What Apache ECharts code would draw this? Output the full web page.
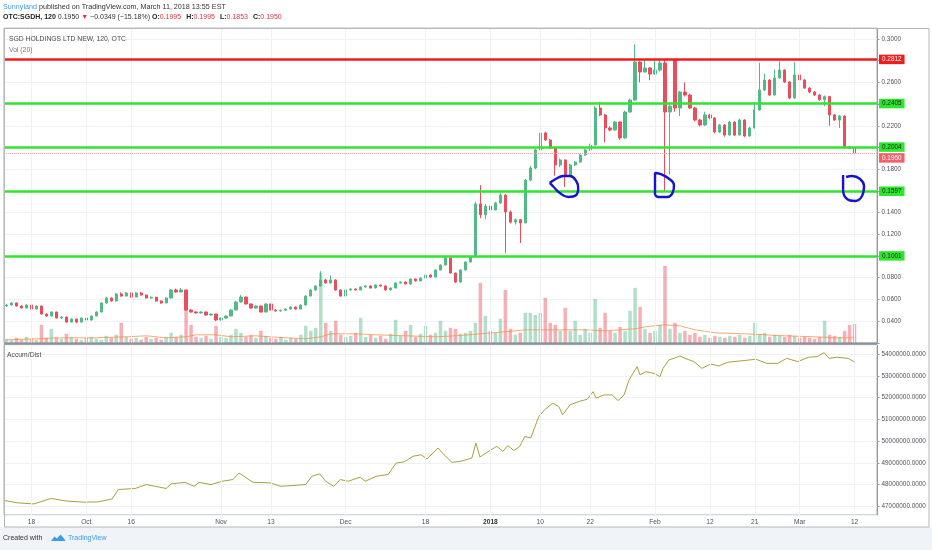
<!DOCTYPE html>
<html><head><meta charset="utf-8">
<script src="https://cdn.jsdelivr.net/npm/echarts@6/dist/echarts.min.js"></script>
<style>html,body{margin:0;padding:0;background:#fff}#c{width:932px;height:550px}</style>
</head><body><div id="c"></div>
<script>
// ---------- data ----------
const slotCount = 175; // bar slots on the time axis (last few empty)
const tickIndex = [5,16,25,43,53,68,84,97,107,117,130,141,150,159,170];
const tickText  = ['18','Oct','16','Nov','13','Dec','18','2018','10','22','Feb','12','21','Mar','12'];
const priceTicks = ['0.3000','0.2600','0.2200','0.1800','0.1400','0.1200','0.0800','0.0600','0.0400'];
// [open, close, low, high]
const candles = [
[.0540,.0548,.0530,.0560],[.0548,.0567,.0545,.0575],[.0567,.0539,.0535,.0570],[.0539,.0520,.0515,.0545],
[.0520,.0548,.0518,.0555],[.0548,.0511,.0505,.0552],[.0511,.0539,.0508,.0545],[.0539,.0465,.0460,.0542],
[.0465,.0447,.0440,.0470],[.0447,.0484,.0443,.0490],[.0484,.0428,.0425,.0486],[.0428,.0437,.0420,.0445],
[.0437,.0391,.0385,.0440],[.0391,.0419,.0388,.0425],[.0419,.0391,.0380,.0422],[.0391,.0428,.0386,.0432],
[.0428,.0410,.0400,.0430],[.0410,.0447,.0405,.0450],[.0447,.0484,.0445,.0490],[.0484,.0567,.0480,.0575],
[.0567,.0613,.0560,.0625],[.0613,.0585,.0580,.0618],[.0585,.0650,.0582,.0660],[.0650,.0631,.0625,.0665],
[.0631,.0659,.0628,.0668],[.0659,.0622,.0615,.0662],[.0622,.0659,.0620,.0665],[.0659,.0640,.0635,.0668],
[.0640,.0613,.0608,.0645],[.0613,.0620,.0605,.0628],[.0620,.0585,.0580,.0625],[.0585,.0567,.0560,.0590],
[.0567,.0613,.0565,.0618],[.0613,.0687,.0610,.0695],[.0687,.0668,.0660,.0700],[.0668,.0687,.0665,.0705],
[.0687,.0502,.0495,.0690],[.0502,.0484,.0478,.0508],[.0484,.0475,.0470,.0490],[.0475,.0484,.0470,.0490],
[.0484,.0456,.0450,.0488],[.0456,.0465,.0450,.0470],[.0465,.0410,.0400,.0468],[.0410,.0428,.0405,.0432],
[.0428,.0447,.0420,.0450],[.0447,.0502,.0445,.0508],[.0502,.0576,.0500,.0585],[.0576,.0622,.0570,.0640],
[.0622,.0558,.0552,.0625],[.0558,.0520,.0515,.0562],[.0520,.0539,.0515,.0545],[.0539,.0484,.0478,.0542],
[.0484,.0558,.0480,.0562],[.0558,.0502,.0498,.0560],[.0502,.0493,.0488,.0508],[.0493,.0500,.0488,.0505],
[.0500,.0511,.0495,.0515],[.0511,.0530,.0508,.0535],[.0530,.0511,.0505,.0533],[.0511,.0548,.0508,.0552],
[.0548,.0631,.0545,.0638],[.0631,.0687,.0628,.0692],[.0687,.0724,.0680,.0730],[.0724,.0779,.0720,.0860],
[.0779,.0751,.0745,.0790],[.0751,.0779,.0748,.0820],[.0779,.0687,.0680,.0785],[.0687,.0631,.0625,.0692],
[.0631,.0687,.0628,.0692],[.0687,.0696,.0680,.0702],[.0696,.0687,.0682,.0700],[.0687,.0714,.0684,.0720],
[.0714,.0724,.0710,.0730],[.0724,.0705,.0700,.0728],[.0705,.0733,.0702,.0738],[.0733,.0724,.0718,.0736],
[.0724,.0687,.0682,.0728],[.0687,.0705,.0684,.0710],[.0705,.0751,.0702,.0756],[.0751,.0760,.0748,.0766],
[.0760,.0742,.0738,.0765],[.0742,.0788,.0740,.0792],[.0788,.0770,.0765,.0793],[.0770,.0797,.0768,.0802],
[.0797,.0825,.0794,.0830],[.0825,.0806,.0800,.0830],[.0806,.0871,.0803,.0876],[.0871,.0917,.0868,.0922],
[.0917,.0982,.0915,.1001],[.0982,.0843,.0838,.0985],[.0843,.0760,.0752,.0846],[.0760,.0871,.0757,.0876],
[.0871,.0945,.0868,.0950],[.0945,.0991,.0940,.0998],[.0995,.1480,.0990,.1500],[.1480,.1380,.1350,.1654],
[.1380,.1460,.1340,.1480],[.1460,.1425,.1400,.1475],[.1425,.1489,.1420,.1500],[.1489,.1562,.1480,.1580],
[.1562,.1406,.1030,.1570],[.1406,.1313,.1300,.1420],[.1313,.1335,.1290,.1345],[.1335,.1305,.1120,.1340],
[.1305,.1700,.1300,.1710],[.1700,.1811,.1690,.1830],[.1811,.1977,.1800,.1990],[.1977,.2134,.1970,.2253],
[.2134,.2069,.2060,.2145],[.2069,.1995,.1985,.2080],[.1995,.1839,.1740,.2005],[.1839,.1885,.1820,.1900],
[.1885,.1747,.1636,.1890],[.1747,.1839,.1740,.1850],[.1839,.1866,.1830,.1875],[.1866,.1931,.1860,.1940],
[.1931,.1977,.1925,.1990],[.1977,.2023,.1970,.2035],[.2023,.2364,.2020,.2380],[.2364,.2300,.2290,.2420],
[.2300,.2180,.2050,.2310],[.2180,.2161,.2150,.2195],[.2161,.2235,.2155,.2245],[.2235,.2088,.2070,.2240],
[.2088,.2327,.2080,.2340],[.2327,.2438,.2320,.2450],[.2438,.2788,.2430,.2950],[.2788,.2696,.2600,.2800],
[.2696,.2733,.2690,.2812],[.2733,.2677,.2620,.2740],[.2677,.2714,.2670,.2812],[.2714,.2779,.2700,.2812],
[.2779,.2327,.1590,.2812],[.2327,.2380,.1750,.2400],[.2810,.2364,.2330,.2815],[.2364,.2511,.2290,.2520],
[.2511,.2484,.2470,.2600],[.2484,.2364,.2355,.2495],[.2364,.2253,.2240,.2375],[.2253,.2207,.2195,.2265],
[.2207,.2300,.2200,.2330],[.2300,.2272,.2260,.2310],[.2272,.2143,.2130,.2280],[.2143,.2207,.2135,.2215],
[.2207,.2115,.2100,.2215],[.2115,.2235,.2110,.2245],[.2235,.2115,.2105,.2240],[.2115,.2253,.2110,.2265],
[.2253,.2106,.2095,.2260],[.2106,.2180,.2100,.2190],[.2180,.2346,.2175,.2420],[.2346,.2530,.2340,.2780],
[.2530,.2622,.2520,.2680],[.2622,.2484,.2475,.2630],[.2484,.2641,.2480,.2720],[.2641,.2714,.2635,.2795],
[.2714,.2604,.2595,.2720],[.2604,.2456,.2445,.2610],[.2456,.2668,.2450,.2790],[.2668,.2622,.2610,.2675],
[.2622,.2548,.2540,.2630],[.2548,.2511,.2500,.2555],[.2511,.2484,.2475,.2520],[.2484,.2440,.2430,.2490],
[.2440,.2470,.2380,.2480],[.2470,.2300,.2200,.2475],[.2300,.2253,.2245,.2310],[.2253,.2290,.2180,.2300],
[.2290,.2000,.1990,.2295],[.2004,.1995,.1985,.2012],[.1995,.1950,.1853,.1995]
];
const volume = [
4,3,5,3,6,4,3,18,5,14,5,4,9,6,4,3,5,6,4,3,7,5,8,20,6,4,5,3,6,4,5,3,6,10,6,8,36,18,6,5,
7,4,17,6,5,8,14,10,6,8,5,12,7,5,4,6,3,5,4,8,17,12,15,70,20,12,22,8,6,7,10,25,6,8,5,7,4,9,23,7,
12,18,6,9,17,8,10,22,12,15,14,9,10,12,20,60,27,12,10,24,53,14,8,10,30,30,28,30,45,20,18,12,35,12,22,8,14,10,44,15,
30,12,10,16,12,32,55,36,14,10,12,18,77,14,20,10,12,8,10,6,8,5,7,6,5,7,6,8,5,7,20,9,10,6,8,7,6,8,7,5,
6,5,4,6,22,8,7,6,12,18,19
];
const volMA = [[0,3],[6,4],[10,5],[18,5],[24,6],[28,7],[32,5],[36,6],[38,8],[42,8],[45,6],[50,7],[56,5],[60,4],[63,6],[65,9],[70,9],[74,8],[80,7],[86,6],[90,7],[95,9],[100,11],[104,13],[110,13],[116,13],[120,12],[126,14],[128,16],[132,18],[135,17],[138,13],[142,10],[148,9],[152,8],[156,7],[162,6],[166,5],[170,5]];
const adLine = [
[-0.5,47270000],[2.1,47160000],[5.5,47110000],[8.9,47360000],[12.1,47240000],[15.5,47190000],[18.3,47200000],[21.2,47340000],[22.4,47770000],[25.8,47820000],[28.0,48000000],[32.0,47820000],[33.0,48030000],[35.8,48100000],[37.6,47920000],[38.6,48100000],[41.0,48000000],[43.2,48150000],[45.4,48230000],[46.6,48530000],[47.6,48380000],[49.4,48100000],[52.8,48080000],[55.0,47920000],[58.4,47970000],[60.0,48000000],[61.2,48380000],[62.8,48490000],[64.0,48150000],[65.6,47920000],[66.9,48230000],[68.5,48150000],[70.9,48340000],[71.9,48150000],[74.1,48380000],[76.5,48460000],[78.1,48990000],[79.7,49040000],[81.5,49300000],[83.1,49370000],[84.3,49180000],[86.5,49680000],[87.7,49370000],[89.3,49020000],[91.1,49070000],[93.3,49220000],[94.1,49910000],[94.9,49270000],[96.7,49530000],[98.3,49760000],[99.5,49530000],[100.5,49790000],[101.7,49560000],[102.9,49760000],[103.9,50210000],[105.1,50140000],[106.7,51130000],[107.9,51440000],[109.5,51740000],[110.7,51590000],[111.5,51210000],[113.0,51670000],[114.8,51820000],[116.4,51920000],[117.6,52270000],[118.2,51970000],[119.8,52120000],[121.4,52120000],[122.6,51860000],[123.8,52120000],[124.8,52810000],[126.4,53420000],[127.0,53040000],[128.2,53190000],[129.8,53110000],[131.0,52960000],[131.6,53340000],[132.8,53730000],[133.8,53800000],[135.0,53910000],[136.0,53800000],[137.8,53650000],[139.4,53340000],[141.2,53540000],[142.8,53450000],[144.6,53620000],[147.4,53690000],[150.2,53760000],[152.4,53570000],[154.6,53570000],[156.4,53800000],[158.6,53650000],[160.8,53850000],[162.5,53880000],[163.9,54060000],[164.9,53800000],[166.5,53850000],[168.7,53800000],[170.1,53620000]
];
const levelValues = [0.2812, 0.2405, 0.2004, 0.1597, 0.1001];
const lastPrice = 0.1950;
// hand-drawn blue marks, as [bar index, price]
const markA = [[108.9,.1673],[110.1,.1710],[111.6,.1737],[113.0,.1737],[114.2,.1691],[114.6,.1627],[114.2,.1562],[112.6,.1544],[110.9,.1581],[109.7,.1636],[108.9,.1673]];
const markB = [[130.0,.1562],[130.0,.1765],[131.0,.1756],[132.6,.1719],[133.8,.1654],[133.6,.1590],[132.4,.1544],[130.6,.1544],[130.0,.1562]];
const markC = [[167.7,.1747],[167.7,.1608],[168.5,.1525],[170.1,.1507],[171.5,.1553],[171.9,.1645],[171.1,.1710],[169.5,.1737],[168.3,.1728]];

// ---------- chart ----------
const FONT = 'Liberation Sans, Arial, sans-serif';
const UP = '#53b987', DOWN = '#eb4d5c';
const AXC = '#50535e';
const catIdx = Array.from({length: slotCount}, (_, i) => String(i));
const catLbl = Array.from({length: slotCount}, (_, i) => { const k = tickIndex.indexOf(i); return k >= 0 ? tickText[k] : ''; });
const volData = volume.map((v, i) => ({value: v, itemStyle: {color: candles[i][1] >= candles[i][0] ? 'rgba(83,185,135,0.45)' : 'rgba(235,77,92,0.45)'}}));
const gridV = tickIndex.map(i => ({xAxis: i}));
const levelStyle = [
  {line: '#f21c1c', bg: '#f21c1c', fg: '#ffffff'},
  {line: '#2ee62e', bg: '#2ee62e', fg: '#1a1a1a'},
  {line: '#2ee62e', bg: '#2ee62e', fg: '#1a1a1a'},
  {line: '#2ee62e', bg: '#2ee62e', fg: '#1a1a1a'},
  {line: '#2ee62e', bg: '#2ee62e', fg: '#1a1a1a'}
];
function boxLabel(bg, fg, dy) {
  return {show: true, position: 'end', distance: 2, formatter: '{b}', offset: [0, dy || 0],
    backgroundColor: bg, color: fg, padding: [2, 3, 1.5, 3], fontSize: 6.4, fontFamily: FONT};
}
const levelLines = levelValues.map((v, k) => ({name: v.toFixed(4), yAxis: v,
  lineStyle: {color: levelStyle[k].line, width: 2.6, type: 'solid'},
  label: boxLabel(levelStyle[k].bg, levelStyle[k].fg)}));
levelLines.push({name: lastPrice.toFixed(4), yAxis: lastPrice, lineStyle: {color: '#f4a0a6', width: 1, type: 'dotted'}, label: boxLabel('#f0616d', '#ffffff', 5)});

const drawSeries = [markA, markB, markC].map(m => ({type: 'line', xAxisIndex: 1, yAxisIndex: 0, data: m,
  smooth: 0.45, symbol: 'none', z: 8, lineStyle: {color: '#1414d2', width: 2.4}, silent: true}));

const txt = (c, s, w) => ({color: c, fontSize: s, fontFamily: FONT, fontWeight: w || 'normal', lineHeight: 9});

const option = {
  animation: false,
  backgroundColor: '#ffffff',
  title: [
    {left: 3, top: 2.3, padding: 0, text: '{a|Sunnyland}{b| published on TradingView.com, March 11, 2018 13:55 EST}',
      textStyle: {lineHeight: 9, rich: {a: txt('#3b9be6', 7.2), b: txt('#333333', 7.2)}}},
    {left: 3, top: 12.8, padding: 0,
      text: '{k|OTC:SGDH, 120}{n| 0.1950 }{r|▼}{n| \u22120.0349 (\u221215.18%) }{k|O:}{r|0.1995} {k|H:}{r|0.1995} {k|L:}{r|0.1853} {k|C:}{r|0.1950}',
      textStyle: {lineHeight: 9, rich: {k: txt('#222222', 7, 'bold'), n: txt('#333333', 7), r: txt('#e0323f', 7)}}},
    {left: 9, top: 34.5, padding: 0, text: 'SGD HOLDINGS LTD NEW, 120, OTC', textStyle: txt('#4a4a4a', 6.8)},
    {left: 9, top: 45.5, padding: 0, text: 'Vol (20)', textStyle: txt('#777777', 6.8)},
    {left: 7, top: 351, padding: 0, text: 'Accum/Dist', textStyle: txt('#4a4a4a', 6.8)},
    {left: 3, top: 534, padding: 0, text: 'Created with', textStyle: txt('#333333', 7)},
    {left: 68, top: 534, padding: 0, text: 'TradingView', textStyle: txt('#3b9be6', 7)}
  ],
  graphic: [
    {type: 'rect', shape: {x: 0, y: 527, width: 932, height: 23}, style: {fill: '#f0f3f8'}, z: -10},
    {type: 'rect', shape: {x: 4.5, y: 28.5, width: 924.5, height: 498.5}, style: {fill: 'none', stroke: '#b4b7bd', lineWidth: 1}, z: 20},
    {type: 'line', shape: {x1: 4, y1: 343.8, x2: 877, y2: 343.8}, style: {stroke: '#8d9198', lineWidth: 2}, z: 20},
    {type: 'polygon', shape: {points: [[51,541],[54.5,536.5],[57,538.5],[60.5,534.5],[64,538.5],[65.5,541]]}, style: {fill: '#3b9be6'}, z: 20}
  ],
  grid: [
    {left: 4, right: 55, top: 28.15, height: 314.65, show: true, borderColor: '#a9acb3', borderWidth: 1, outerBoundsMode: 'none', containLabel: false},
    {left: 4, right: 55, top: 345, height: 170, show: true, borderColor: '#a9acb3', borderWidth: 1, outerBoundsMode: 'none', containLabel: false}
  ],
  xAxis: [
    {type: 'category', gridIndex: 0, data: catIdx, boundaryGap: true, show: false},
    {type: 'value', gridIndex: 0, min: -0.5, max: slotCount - 0.5, show: false},
    {type: 'category', gridIndex: 1, data: catLbl, boundaryGap: true,
      axisLine: {show: false, onZero: false}, axisTick: {show: false}, splitLine: {show: false},
      axisLabel: {interval: 0, margin: 3.5, color: AXC, fontSize: 6.6, fontFamily: FONT, hideOverlap: false,
        formatter: v => v === '2018' ? '{b|2018}' : v, rich: {b: {fontWeight: 'bold', fontSize: 6.6, color: '#333', fontFamily: FONT}}}},
    {type: 'value', gridIndex: 1, min: -0.5, max: slotCount - 0.5, show: false}
  ],
  yAxis: [
    {type: 'value', gridIndex: 0, position: 'right', min: 0.02, max: 0.31, interval: 0.02,
      axisLine: {show: true, onZero: false, lineStyle: {color: '#9598a1'}},
      axisTick: {show: true, length: 2.5, lineStyle: {color: '#9598a1'}},
      splitLine: {show: true, lineStyle: {color: '#eef1f6', width: 1}},
      axisLabel: {margin: 4.5, color: AXC, fontSize: 6.4, fontFamily: FONT, showMinLabel: true, showMaxLabel: true,
        formatter: v => priceTicks.includes(v.toFixed(4)) ? v.toFixed(4) : ''}},
    {type: 'value', gridIndex: 0, min: 0, max: 315, show: false, axisLine: {onZero: false}},
    {type: 'value', gridIndex: 1, position: 'right', min: 46600000, max: 54414000, splitNumber: 8,
      axisLine: {show: true, onZero: false, lineStyle: {color: '#9598a1'}},
      axisTick: {show: true, length: 2.5, lineStyle: {color: '#9598a1'}},
      splitLine: {show: true, lineStyle: {color: '#eef1f6', width: 1}},
      axisLabel: {margin: 4.5, color: AXC, fontSize: 6.4, fontFamily: FONT, showMinLabel: false, showMaxLabel: false,
        formatter: v => v.toFixed(4)}}
  ],
  series: [
    {type: 'bar', xAxisIndex: 0, yAxisIndex: 1, data: volData, barWidth: '70%', z: 1, silent: true,
      markLine: {silent: true, symbol: 'none', label: {show: false}, lineStyle: {color: '#eef1f6', width: 1, type: 'solid'}, data: gridV}},
    {type: 'line', xAxisIndex: 1, yAxisIndex: 1, data: volMA, symbol: 'none', z: 2, silent: true,
      lineStyle: {color: 'rgba(245,140,70,0.75)', width: 1}},
    {type: 'candlestick', xAxisIndex: 0, yAxisIndex: 0, data: candles, barWidth: '55%', z: 3, silent: true,
      itemStyle: {color: UP, color0: DOWN, borderColor: UP, borderColor0: DOWN, borderWidth: 1}},
    {type: 'line', xAxisIndex: 1, yAxisIndex: 0, data: [], z: 6, silent: true,
      markLine: {silent: true, symbol: 'none', precision: 4, data: levelLines}},
    ...drawSeries,
    {type: 'line', xAxisIndex: 3, yAxisIndex: 2, data: adLine, symbol: 'none', z: 3, silent: true,
      lineStyle: {color: '#a6a23d', width: 1},
      markLine: {silent: true, symbol: 'none', label: {show: false}, lineStyle: {color: '#eef1f6', width: 1, type: 'solid'}, data: gridV}}
  ]
};
echarts.init(document.getElementById('c'), null, {renderer: 'canvas'}).setOption(option);
</script></body></html>
